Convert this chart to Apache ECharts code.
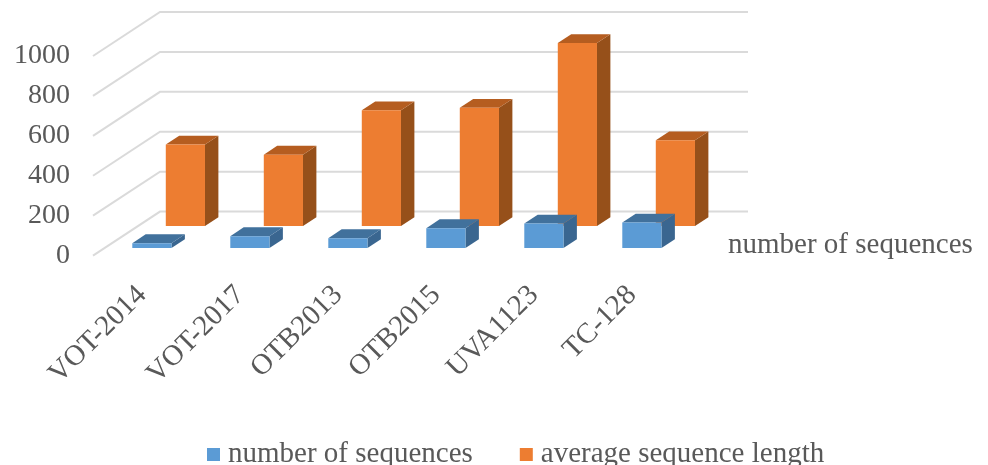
<!DOCTYPE html>
<html>
<head>
<meta charset="utf-8">
<style>html,body{margin:0;padding:0;background:#fff}#c{width:988px;height:465px}</style>
<script src="https://cdn.jsdelivr.net/npm/echarts@6/dist/echarts.min.js"></script>
</head>
<body>
<div id="c"></div>
<script>
var categories = ['VOT-2014','VOT-2017','OTB2013','OTB2015','UVA1123','TC-128'];
var sequenceCounts = [25,60,50,100,123,128];
var averageLengths = [409,358,580,593,917,430];
var valueTicks = [0,200,400,600,800,1000];
var seriesNames = ['number of sequences','average sequence length'];

var DEPTH_X = 67, DEPTH_Y = -44, BAR_NUDGE = -1.5;
var TEXT = '#595959', FONT = 'Liberation Serif';
var blueFaces = {front:'#5B9BD5', top:'#41719C', side:'#3A6690'};
var orangeFaces = {front:'#ED7D31', top:'#B55D20', side:'#96501A'};

function shift(p, t){ return [p[0]+DEPTH_X*t, p[1]+DEPTH_Y*t]; }

function barRenderer(depth, faces){
  return function(params, api){
    var i = api.value(0), v = api.value(1);
    var w = api.size([1,0])[0]*0.4, thick = 0.2;
    var base = shift(api.coord([i,0]), depth);
    var top = shift(api.coord([i,v]), depth);
    var l = base[0]-w/2+BAR_NUDGE, r = l+w, b = base[1], t = top[1];
    var dx = DEPTH_X*thick, dy = DEPTH_Y*thick;
    return {type:'group', children:[
      {type:'polygon', shape:{points:[[r,t],[r+dx,t+dy],[r+dx,b+dy],[r,b]]}, style:{fill:faces.side}},
      {type:'polygon', shape:{points:[[l,t],[l+dx,t+dy],[r+dx,t+dy],[r,t]]}, style:{fill:faces.top}},
      {type:'rect', shape:{x:l,y:t,width:w,height:b-t}, style:{fill:faces.front}}
    ]};
  };
}

function wallRenderer(params, api){
  var y = api.coord([0,api.value(0)])[1];
  var x0 = params.coordSys.x, x1 = x0+params.coordSys.width;
  return {type:'polyline', silent:true,
    shape:{points:[[x0,y],[x0+DEPTH_X,y+DEPTH_Y],[x1+DEPTH_X,y+DEPTH_Y]]},
    style:{stroke:'#DADADA', lineWidth:2, fill:null}};
}

var chart = echarts.init(document.getElementById('c'), null, {renderer:'canvas'});
chart.setOption({
  animation:false,
  backgroundColor:'#fff',
  grid:{left:93, top:56, width:588, height:199.6, containLabel:false},
  xAxis:{type:'category', data:categories, axisLine:{show:false}, axisTick:{show:false},
    axisLabel:{rotate:45, margin:35, interval:0, fontFamily:FONT, fontSize:29, color:TEXT}},
  yAxis:{type:'value', min:0, max:1000, interval:200, axisLine:{show:false}, axisTick:{show:false},
    splitLine:{show:false},
    axisLabel:{margin:23, fontFamily:FONT, fontSize:28, color:TEXT, padding:[9,0,0,0],
      formatter:function(v){return String(v);}}},
  legend:{data:seriesNames, left:207, top:440, padding:0, icon:'rect', itemWidth:13, itemHeight:13, itemGap:47,
    textStyle:{fontFamily:FONT, fontSize:29, color:TEXT, padding:[0,0,0,3]}},
  graphic:[{type:'text', left:728, top:231,
    style:{text:seriesNames[0], font:'29px "'+FONT+'"', fill:TEXT}}],
  series:[
    {type:'custom', name:'walls', data:valueTicks.map(function(v){return [v];}),
      encode:{y:0}, renderItem:wallRenderer, silent:true, clip:false, z:1},
    {type:'custom', name:seriesNames[1], itemStyle:{color:orangeFaces.front}, clip:false, z:2,
      data:averageLengths.map(function(v,i){return [i,v];}), encode:{x:0,y:1},
      renderItem:barRenderer(0.67, orangeFaces)},
    {type:'custom', name:seriesNames[0], itemStyle:{color:blueFaces.front}, clip:false, z:3,
      data:sequenceCounts.map(function(v,i){return [i,v];}), encode:{x:0,y:1},
      renderItem:barRenderer(0.17, blueFaces)}
  ]
});
</script>
</body>
</html>
